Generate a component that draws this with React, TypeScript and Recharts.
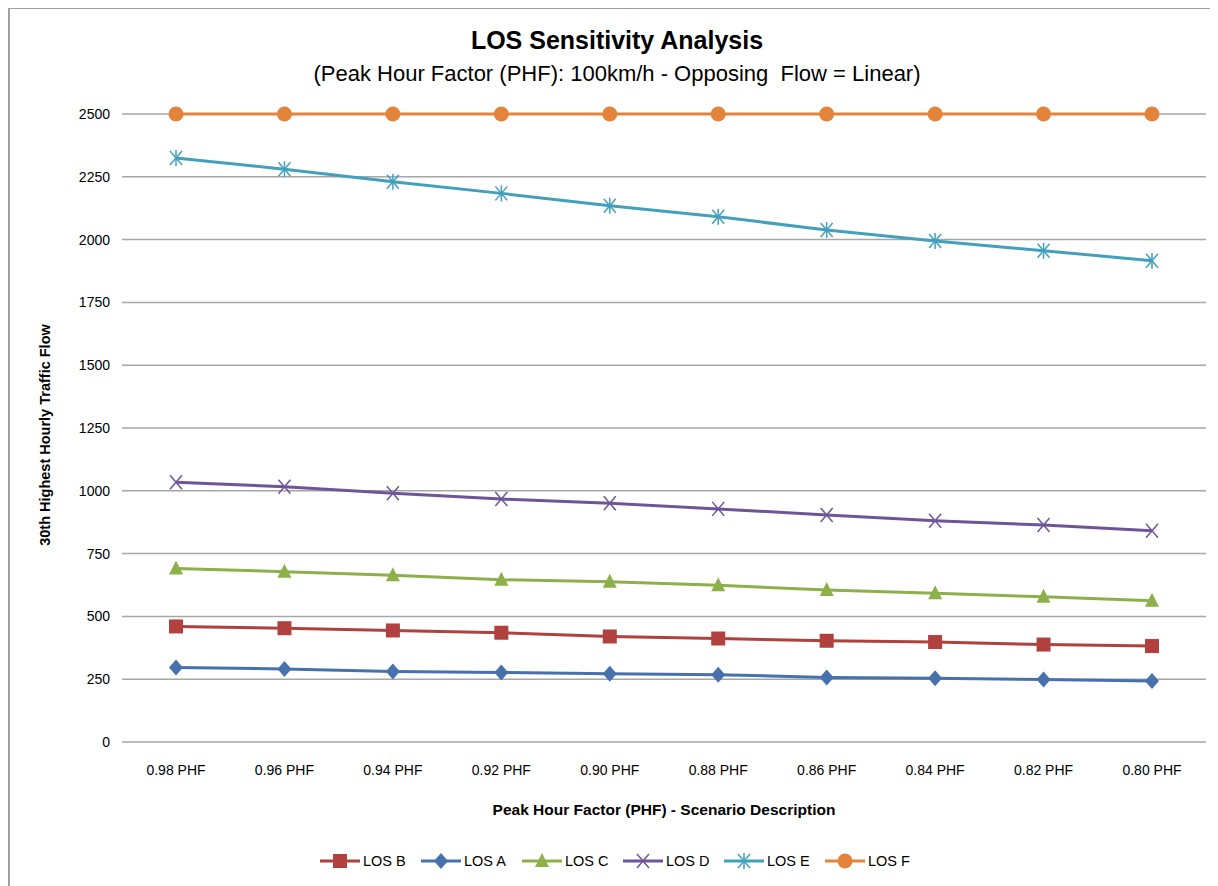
import React from 'react';
import { LineChart, Line, XAxis, YAxis, CartesianGrid } from 'recharts';

const categories = ['0.98 PHF', '0.96 PHF', '0.94 PHF', '0.92 PHF', '0.90 PHF', '0.88 PHF', '0.86 PHF', '0.84 PHF', '0.82 PHF', '0.80 PHF'];
const losA = [297, 291, 281, 277, 272, 268, 257, 254, 249, 243];
const losB = [460, 453, 444, 435, 420, 412, 403, 398, 388, 382];
const losC = [691, 678, 664, 646, 638, 624, 605, 592, 578, 562];
const losD = [1034, 1016, 990, 967, 950, 928, 904, 881, 864, 841];
const losE = [2325, 2280, 2230, 2184, 2135, 2091, 2038, 1994, 1956, 1916];
const losF = [2500, 2500, 2500, 2500, 2500, 2500, 2500, 2500, 2500, 2500];
const yTicks = [0, 250, 500, 750, 1000, 1250, 1500, 1750, 2000, 2250, 2500];

const data = categories.map((c, i) => ({
  name: c,
  A: losA[i], B: losB[i], C: losC[i], D: losD[i], E: losE[i], F: losF[i],
}));

type Shape = 'square' | 'diamond' | 'triangle' | 'x' | 'star' | 'circle';

const series: { key: string; name: string; color: string; shape: Shape }[] = [
  { key: 'B', name: 'LOS B', color: '#B0413E', shape: 'square' },
  { key: 'A', name: 'LOS A', color: '#4671AD', shape: 'diamond' },
  { key: 'C', name: 'LOS C', color: '#8DB04A', shape: 'triangle' },
  { key: 'D', name: 'LOS D', color: '#6E5597', shape: 'x' },
  { key: 'E', name: 'LOS E', color: '#43A0BD', shape: 'star' },
  { key: 'F', name: 'LOS F', color: '#E3843A', shape: 'circle' },
];

function marker(shape: Shape, cx: number, cy: number, color: string, key?: string) {
  switch (shape) {
    case 'square':
      return <rect key={key} x={cx - 7} y={cy - 7} width={14} height={14} fill={color} />;
    case 'diamond':
      return <polygon key={key} points={`${cx},${cy - 8} ${cx + 7},${cy} ${cx},${cy + 8} ${cx - 7},${cy}`} fill={color} />;
    case 'triangle':
      return <polygon key={key} points={`${cx},${cy - 8} ${cx + 7},${cy + 6} ${cx - 7},${cy + 6}`} fill={color} />;
    case 'x':
      return (
        <g key={key} stroke={color} strokeWidth={1.5}>
          <line x1={cx - 6} y1={cy - 7} x2={cx + 6} y2={cy + 7} />
          <line x1={cx - 6} y1={cy + 7} x2={cx + 6} y2={cy - 7} />
        </g>
      );
    case 'star':
      return (
        <g key={key} stroke={color} strokeWidth={1.5}>
          <line x1={cx - 6} y1={cy - 7} x2={cx + 6} y2={cy + 7} />
          <line x1={cx - 6} y1={cy + 7} x2={cx + 6} y2={cy - 7} />
          <line x1={cx} y1={cy - 8} x2={cx} y2={cy + 8} />
        </g>
      );
    case 'circle':
    default:
      return <circle key={key} cx={cx} cy={cy} r={7.5} fill={color} />;
  }
}

const FONT = "'Liberation Sans', Arial, sans-serif";

export default function App() {
  return (
    <div style={{ position: 'relative', width: 1210, height: 878, fontFamily: FONT, background: '#fff' }}>
      <div style={{ position: 'absolute', left: 0, top: -1, width: 1210, height: 880, borderLeft: '2px solid #A0A0A0', borderTop: '2px solid #A0A0A0', boxSizing: 'border-box' }} />
      <div style={{ position: 'absolute', left: 0, width: 1218, top: 18, textAlign: 'center', fontSize: 25, fontWeight: 'bold', color: '#000' }}>
        LOS Sensitivity Analysis
      </div>
      <div style={{ position: 'absolute', left: 0, width: 1218, top: 53, textAlign: 'center', fontSize: 22, color: '#000' }}>
        (Peak Hour Factor (PHF): 100km/h - Opposing&nbsp; Flow = Linear)
      </div>
      <div style={{ position: 'absolute', left: 37 - 150, top: 436 - 9 - 8, width: 300, textAlign: 'center', fontSize: 14.5, fontWeight: 'bold', transform: 'rotate(-90deg)', color: '#000' }}>
        30th Highest Hourly Traffic Flow
      </div>
      <div style={{ position: 'absolute', left: 656 - 300, top: 793, width: 600, textAlign: 'center', fontSize: 15.5, fontWeight: 'bold', color: '#000' }}>
        Peak Hour Factor (PHF) - Scenario Description
      </div>
      <div style={{ position: 'absolute', left: 0, top: 0 }}>
        <LineChart width={1210} height={878} data={data} margin={{ top: 106, right: 12, bottom: 114, left: 54 }}>
          <CartesianGrid horizontal vertical={false} stroke="#A6A6A6" strokeWidth={1.5} />
          <XAxis dataKey="name" axisLine={false} tickLine={false} tickSize={0} tickMargin={23} height={30}
            padding={{ left: 54, right: 54 }}
            tick={{ fontSize: 14, fill: '#000', fontFamily: FONT }} interval={0} />
          <YAxis domain={[0, 2500]} ticks={yTicks} axisLine={false} tickLine={false} tickSize={0} tickMargin={12} width={60}
            tick={{ fontSize: 14, fill: '#000', fontFamily: FONT }} interval={0} />
          {series.map((s) => (
            <Line key={s.key} type="linear" dataKey={s.key} name={s.name} stroke={s.color} strokeWidth={3}
              isAnimationActive={false}
              dot={(p: any) => marker(s.shape, p.cx, p.cy, s.color, `${s.key}-${p.index}`)}
              activeDot={false} />
          ))}
        </LineChart>
      </div>
      <div style={{ position: 'absolute', left: 312, top: 843, display: 'flex' }}>
        {series.map((s) => (
          <div key={s.key} style={{ display: 'flex', alignItems: 'center', width: 101, fontSize: 14.5, color: '#000' }}>
            <svg width={40} height={20} style={{ marginRight: 3 }}>
              <line x1={0} y1={10} x2={40} y2={10} stroke={s.color} strokeWidth={3} />
              {marker(s.shape, 20, 10, s.color)}
            </svg>
            <span>{s.name}</span>
          </div>
        ))}
      </div>
    </div>
  );
}
